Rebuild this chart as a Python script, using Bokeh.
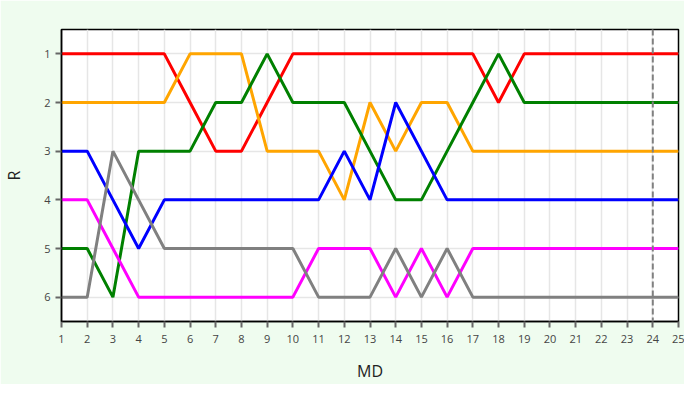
from bokeh.plotting import figure
from bokeh.models import Range1d, FixedTicker, Span
from bokeh.embed import file_html
from bokeh.resources import INLINE

md = list(range(1, 26))
red = [1, 1, 1, 1, 1, 2, 3, 3, 2, 1, 1, 1, 1, 1, 1, 1, 1, 2, 1, 1, 1, 1, 1, 1, 1]
orange = [2, 2, 2, 2, 2, 1, 1, 1, 3, 3, 3, 4, 2, 3, 2, 2, 3, 3, 3, 3, 3, 3, 3, 3, 3]
green = [5, 5, 6, 3, 3, 3, 2, 2, 1, 2, 2, 2, 3, 4, 4, 3, 2, 1, 2, 2, 2, 2, 2, 2, 2]
blue = [3, 3, 4, 5, 4, 4, 4, 4, 4, 4, 4, 3, 4, 2, 3, 4, 4, 4, 4, 4, 4, 4, 4, 4, 4]
magenta = [4, 4, 5, 6, 6, 6, 6, 6, 6, 6, 5, 5, 5, 6, 5, 6, 5, 5, 5, 5, 5, 5, 5, 5, 5]
gray = [6, 6, 3, 4, 5, 5, 5, 5, 5, 5, 6, 6, 6, 5, 6, 5, 6, 6, 6, 6, 6, 6, 6, 6, 6]
series = [(red, "red"), (orange, "orange"), (green, "green"),
          (blue, "blue"), (magenta, "magenta"), (gray, "gray")]
marker_md = 24

BG = "#effcef"
FONT = "Open Sans"

p = figure(width=684, height=384, output_backend="svg", toolbar_location=None,
           x_range=Range1d(1, 25), y_range=Range1d(6.5, 0.5),
           min_border_left=53, min_border_right=6, min_border_top=29, min_border_bottom=63)
p.background_fill_color = "white"
p.border_fill_color = BG
p.outline_line_color = "black"
p.outline_line_width = 1.5

for ys, c in series:
    p.line(md, ys, line_color=c, line_width=3)

p.add_layout(Span(location=marker_md, dimension="height", line_color="gray",
                  line_dash="6 3", line_width=2))

p.xaxis.ticker = FixedTicker(ticks=md)
p.yaxis.ticker = FixedTicker(ticks=[1, 2, 3, 4, 5, 6])
for ax in (p.xaxis[0], p.yaxis[0]):
    ax.axis_line_color = "black"
    ax.axis_line_width = 1.5
    ax.major_tick_line_color = "#666666"
    ax.major_tick_line_width = 2
    ax.major_tick_in = 0
    ax.major_tick_out = 6
    ax.minor_tick_line_color = None
    ax.major_label_text_font = FONT
    ax.major_label_text_font_size = "11px"
    ax.major_label_text_color = "#444444"
    ax.axis_label_text_font = FONT
    ax.axis_label_text_font_size = "16px"
    ax.axis_label_text_font_style = "normal"
    ax.axis_label_text_color = "#222222"
p.xaxis.axis_label = "MD"
p.yaxis.axis_label = "R"
p.xaxis.major_label_standoff = 7
p.xaxis.axis_label_standoff = 14
p.yaxis.major_label_standoff = 5
p.yaxis.axis_label_standoff = 16

p.xgrid.grid_line_color = "#e6e6e6"
p.xgrid.grid_line_width = 1.5
p.ygrid.grid_line_color = "#e6e6e6"
p.ygrid.grid_line_width = 1.5

open("out.html", "w").write(file_html(p, INLINE))
